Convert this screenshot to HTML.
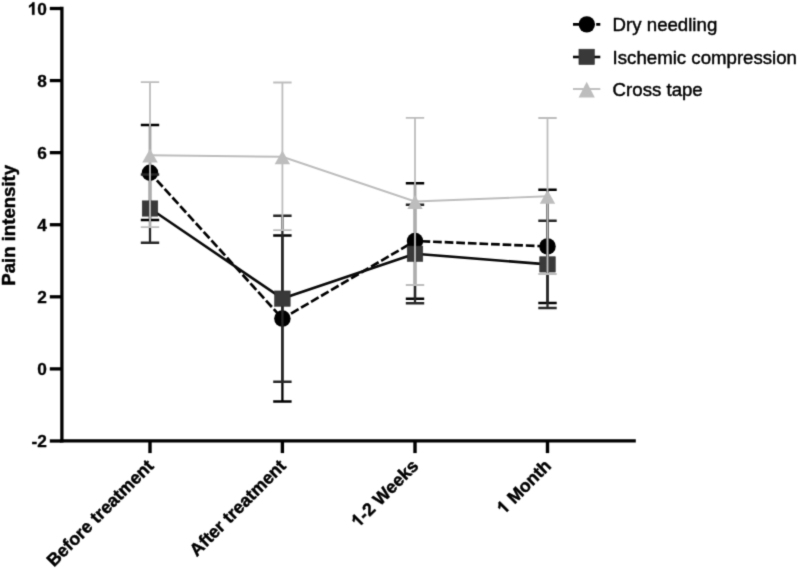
<!DOCTYPE html>
<html><head><meta charset="utf-8"><title>Pain intensity chart</title>
<style>
html,body{margin:0;padding:0;background:#fff;}
svg{display:block;}
text{font-family:"Liberation Sans",sans-serif;fill:#000;stroke:#000;stroke-width:0.45px;stroke-linejoin:round;}
.b{font-weight:bold;font-size:18.6px;}
.t{font-weight:bold;font-size:17.8px;}
.k{font-weight:bold;font-size:17.3px;stroke-width:0.3px;}
.r{font-size:18.65px;}
.h{fill:none;stroke:none;}
</style></head>
<body>
<svg width="800" height="570" viewBox="0 0 800 570">
<defs><filter id="soft" color-interpolation-filters="sRGB" x="0" y="0" width="800" height="570" filterUnits="userSpaceOnUse"><feConvolveMatrix order="3" kernelMatrix="0.01917 0.10012 0.01917 0.10012 0.52283 0.10012 0.01917 0.10012 0.01917" edgeMode="duplicate" preserveAlpha="true"/></filter></defs>
<rect width="800" height="570" fill="#fff"/>
<g filter="url(#soft)">
<rect width="800" height="570" fill="#fff"/>
<path d="M61.9 6.8V442.6" stroke="#000" stroke-width="3.3" fill="none"/>
<path d="M60.3 440.9H635.8" stroke="#000" stroke-width="3.4" fill="none"/>
<path d="M49.8 8.50H61" stroke="#000" stroke-width="3.3"/>
<g transform="translate(46.9,14.80)"><text text-anchor="end" class="k"><tspan class="h">1</tspan>0</text><path d="M806 0H525V1059Q371 915 162 846V1101Q272 1137 401 1237.5Q530 1338 578 1472H806Z" transform="translate(-19.243,0) scale(0.008447,-0.008447)" fill="#000" stroke="#000" stroke-width="35.5" stroke-linejoin="round"/></g>
<path d="M49.8 80.58H61" stroke="#000" stroke-width="3.3"/>
<text x="46.9" y="86.88" text-anchor="end" class="k">8</text>
<path d="M49.8 152.66H61" stroke="#000" stroke-width="3.3"/>
<text x="46.9" y="158.96" text-anchor="end" class="k">6</text>
<path d="M49.8 224.74H61" stroke="#000" stroke-width="3.3"/>
<text x="46.9" y="231.04" text-anchor="end" class="k">4</text>
<path d="M49.8 296.82H61" stroke="#000" stroke-width="3.3"/>
<text x="46.9" y="303.12" text-anchor="end" class="k">2</text>
<path d="M49.8 368.90H61" stroke="#000" stroke-width="3.3"/>
<text x="46.9" y="375.20" text-anchor="end" class="k">0</text>
<path d="M49.8 440.98H61" stroke="#000" stroke-width="3.3"/>
<text x="46.9" y="447.28" text-anchor="end" class="k">-2</text>
<path d="M150.0 440.9V453.1" stroke="#000" stroke-width="3.4"/>
<text transform="translate(154.6,467) rotate(-45)" text-anchor="end" class="t">Before treatment</text>
<path d="M282.4 440.9V453.1" stroke="#000" stroke-width="3.4"/>
<text transform="translate(287.0,467) rotate(-45)" text-anchor="end" class="t">After treatment</text>
<path d="M415.0 440.9V453.1" stroke="#000" stroke-width="3.4"/>
<g transform="translate(419.6,467) rotate(-45)"><text text-anchor="end" class="t"><tspan class="h">1</tspan>-2 Weeks</text><path d="M806 0H525V1059Q371 915 162 846V1101Q272 1137 401 1237.5Q530 1338 578 1472H806Z" transform="translate(-86.750,0) scale(0.008691,-0.008691)" fill="#000" stroke="#000" stroke-width="51.8" stroke-linejoin="round"/></g>
<path d="M547.5 440.9V453.1" stroke="#000" stroke-width="3.4"/>
<g transform="translate(552.1,467) rotate(-45)"><text text-anchor="end" class="t"><tspan class="h">1</tspan> Month</text><path d="M806 0H525V1059Q371 915 162 846V1101Q272 1137 401 1237.5Q530 1338 578 1472H806Z" transform="translate(-68.221,0) scale(0.008691,-0.008691)" fill="#000" stroke="#000" stroke-width="51.8" stroke-linejoin="round"/></g>
<text transform="translate(15.3,225.3) rotate(-90)" text-anchor="middle" class="b">Pain intensity</text>
<path d="M150.0 125.0V220.0" stroke="#000" stroke-width="2.3" fill="none"/>
<path d="M140.8 125.0H159.2M140.8 220.0H159.2" stroke="#000" stroke-width="2.5" fill="none"/>
<path d="M282.4 235.5V401.5" stroke="#000" stroke-width="2.3" fill="none"/>
<path d="M273.2 235.5H291.6M273.2 401.5H291.6" stroke="#000" stroke-width="2.5" fill="none"/>
<path d="M415.0 183.3V298.8" stroke="#000" stroke-width="2.3" fill="none"/>
<path d="M405.8 183.3H424.2M405.8 298.8H424.2" stroke="#000" stroke-width="2.5" fill="none"/>
<path d="M547.5 189.7V303.0" stroke="#000" stroke-width="2.3" fill="none"/>
<path d="M538.3 189.7H556.7M538.3 303.0H556.7" stroke="#000" stroke-width="2.5" fill="none"/>
<line x1="150.0" y1="172.75" x2="282.4" y2="318.6" stroke="#000" stroke-width="2.7" stroke-dasharray="8.7 2.9" stroke-dashoffset="1.4"/>
<line x1="282.4" y1="318.6" x2="415.0" y2="241.0" stroke="#000" stroke-width="2.7" stroke-dasharray="8.7 2.9" stroke-dashoffset="1.6"/>
<line x1="415.0" y1="241.0" x2="547.5" y2="246.4" stroke="#000" stroke-width="2.7" stroke-dasharray="8.7 2.9" stroke-dashoffset="5.1"/>
<circle cx="150.0" cy="172.75" r="8.25" fill="#000"/>
<circle cx="282.4" cy="318.6" r="8.25" fill="#000"/>
<circle cx="415.0" cy="241.0" r="8.25" fill="#000"/>
<circle cx="547.5" cy="246.4" r="8.25" fill="#000"/>
<path d="M150.0 174.5V242.8" stroke="#272727" stroke-width="2.3" fill="none"/>
<path d="M140.8 174.5H159.2M140.8 242.8H159.2" stroke="#272727" stroke-width="2.5" fill="none"/>
<path d="M282.4 215.7V381.8" stroke="#272727" stroke-width="2.3" fill="none"/>
<path d="M273.2 215.7H291.6M273.2 381.8H291.6" stroke="#272727" stroke-width="2.5" fill="none"/>
<path d="M415.0 204.8V303.2" stroke="#272727" stroke-width="2.3" fill="none"/>
<path d="M405.8 204.8H424.2M405.8 303.2H424.2" stroke="#272727" stroke-width="2.5" fill="none"/>
<path d="M547.5 220.8V308.0" stroke="#272727" stroke-width="2.3" fill="none"/>
<path d="M538.3 220.8H556.7M538.3 308.0H556.7" stroke="#272727" stroke-width="2.5" fill="none"/>
<polyline points="150.0,208.5 282.4,298.6 415.0,253.7 547.5,264.4" stroke="#0a0a0a" stroke-width="2.6" fill="none" />
<rect x="142.25" y="200.85" width="15.5" height="15.3" fill="#393939" stroke="#2e2e2e" stroke-width="0.6"/>
<rect x="274.65" y="290.95" width="15.5" height="15.3" fill="#393939" stroke="#2e2e2e" stroke-width="0.6"/>
<rect x="407.25" y="246.05" width="15.5" height="15.3" fill="#393939" stroke="#2e2e2e" stroke-width="0.6"/>
<rect x="539.75" y="256.75" width="15.5" height="15.3" fill="#393939" stroke="#2e2e2e" stroke-width="0.6"/>
<path d="M150.0 82.2V227.2" stroke="#bdbdbd" stroke-width="1.8" fill="none"/>
<path d="M140.8 82.2H159.2M140.8 227.2H159.2" stroke="#bdbdbd" stroke-width="1.8" fill="none"/>
<path d="M282.4 82.5V230.2" stroke="#bdbdbd" stroke-width="1.8" fill="none"/>
<path d="M273.2 82.5H291.6M273.2 230.2H291.6" stroke="#bdbdbd" stroke-width="1.8" fill="none"/>
<path d="M415.0 117.8V285.0" stroke="#bdbdbd" stroke-width="1.8" fill="none"/>
<path d="M405.8 117.8H424.2M405.8 285.0H424.2" stroke="#bdbdbd" stroke-width="1.8" fill="none"/>
<path d="M547.5 118.0V274.0" stroke="#bdbdbd" stroke-width="1.8" fill="none"/>
<path d="M538.3 118.0H556.7M538.3 274.0H556.7" stroke="#bdbdbd" stroke-width="1.8" fill="none"/>
<polyline points="150.0,155.2 282.4,156.8 415.0,201.5 547.5,196.3" stroke="#bdbdbd" stroke-width="1.9" fill="none" />
<path d="M150.0 148.8L157.7 162.6H142.3Z" fill="#bdbdbd"/>
<path d="M282.4 150.4L290.1 164.2H274.7Z" fill="#bdbdbd"/>
<path d="M415.0 195.1L422.7 208.9H407.3Z" fill="#bdbdbd"/>
<path d="M547.5 189.9L555.2 203.7H539.8Z" fill="#bdbdbd"/>
<line x1="573" y1="24.35" x2="600.3" y2="24.35" stroke="#000" stroke-width="2.6" stroke-dasharray="8.7 2.9"/>
<circle cx="586.8" cy="24.35" r="8.2" fill="#000"/>
<line x1="573" y1="57" x2="600.3" y2="57" stroke="#0a0a0a" stroke-width="2.6"/>
<rect x="578.95" y="49.2" width="15.4" height="15.3" fill="#393939" stroke="#2e2e2e" stroke-width="0.6"/>
<line x1="573" y1="89" x2="600.3" y2="89" stroke="#bdbdbd" stroke-width="1.9"/>
<path d="M586.7 81.8L594.8 97.5H578.6Z" fill="#bdbdbd"/>
<text x="612.6" y="31.0" class="r">Dry needling</text>
<text x="612.6" y="63.6" class="r">Ischemic compression</text>
<text x="612.6" y="95.6" class="r">Cross tape</text>
</g>
</svg>
</body></html>
